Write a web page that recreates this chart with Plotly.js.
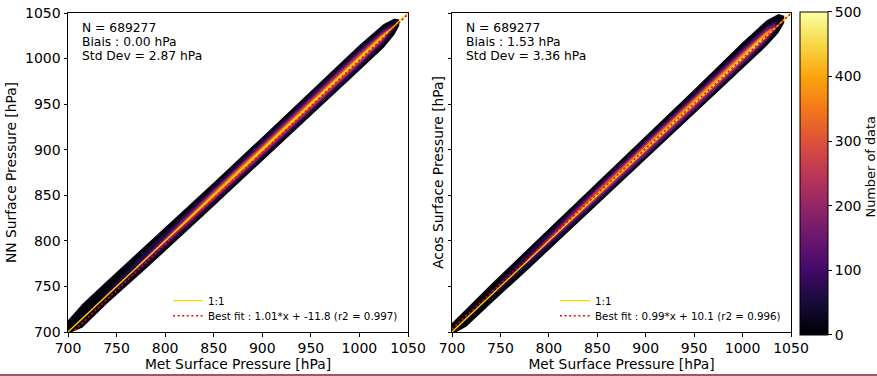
<!DOCTYPE html>
<html>
<head>
<meta charset="utf-8">
<script src="https://cdn.plot.ly/plotly-3.0.1.min.js"></script>
<style>html,body{margin:0;padding:0;background:#fff;}#chart{width:877px;height:376px;}</style>
</head>
<body>
<div id="chart"></div>
<script>
// ---------------- DATA ----------------
const axisTicks = [700, 750, 800, 850, 900, 950, 1000, 1050];
const cbTicks = [0, 100, 200, 300, 400, 500];
const statsNN = ["N = 689277", "Biais : 0.00 hPa", "Std Dev = 2.87 hPa"];
const statsAcos = ["N = 689277", "Biais : 1.53 hPa", "Std Dev = 3.36 hPa"];
const oneToOneX = [700, 1050];
const oneToOneY = [700, 1050];
const fitNNX = [700, 1050];
const fitNNY = [695.2, 1048.7];      // 1.01*x + -11.8
const fitAcosX = [700, 1050];
const fitAcosY = [703.1, 1049.6];    // 0.99*x + 10.1
const fitNNLabel = "Best fit : 1.01*x + -11.8 (r2 = 0.997)";
const fitAcosLabel = "Best fit : 0.99*x + 10.1 (r2 = 0.996)";
const colorbarTitle = "Number of data";

// density bands: count level of each shade (Number of data)
const bandLevels = [8, 60, 150, 250, 370, 470];

// NN panel: Met pressure knots, lower / upper NN pressure edge of each density level
const nnX0 = [700, 715, 740, 780, 850, 900, 950, 1000, 1025, 1036, 1041];
const nnUp0 = [713, 731, 756, 795, 864, 914, 964, 1015, 1038, 1044, 1043];
const nnLo0 = [698, 705, 731, 769, 838, 887, 937, 987, 1012, 1026, 1036];
const nnX1 = [735, 780, 850, 900, 950, 1000, 1025, 1035];
const nnUp1 = [738, 789, 860, 910, 960, 1011, 1034, 1039];
const nnLo1 = [734, 773, 841, 891, 941, 990, 1016, 1031];
const nnX2 = [770, 820, 900, 950, 1000, 1025, 1033];
const nnUp2 = [772, 826, 907.5, 957.5, 1008, 1031, 1036];
const nnLo2 = [768, 815, 893, 943, 993, 1019, 1031];
const nnX3 = [790, 850, 900, 950, 1000, 1025, 1031];
const nnUp3 = [791, 855, 905, 955, 1005.5, 1029, 1033];
const nnLo3 = [789, 845.5, 895.5, 945.5, 995, 1021.5, 1029.5];
const nnX4 = [810, 870, 950, 1000, 1022, 1030];
const nnUp4 = [811, 873, 953, 1003.5, 1025, 1031];
const nnLo4 = [809, 867.5, 947.5, 997, 1019.5, 1029];
const nnX5 = [870, 940, 1000, 1022];
const nnUp5 = [870.5, 941.3, 1001.5, 1022.7];
const nnLo5 = [869.5, 938.9, 998.6, 1021.3];

// Acos panel
const acX0 = [700, 715, 740, 780, 850, 900, 950, 1000, 1025, 1037, 1043];
const acUp0 = [710, 726, 752, 793, 864, 915, 966, 1018, 1042, 1049, 1047];
const acLo0 = [697, 706, 731, 770, 839, 889, 939, 989, 1014, 1028, 1039];
const acX1 = [740, 780, 850, 900, 950, 1000, 1025, 1036];
const acUp1 = [744, 789, 861, 911, 962, 1013, 1037, 1043];
const acLo1 = [738, 774, 842, 892, 942, 992, 1018, 1033];
const acX2 = [775, 820, 900, 950, 1000, 1025, 1034];
const acUp2 = [777, 827, 908.5, 959, 1010, 1034, 1039];
const acLo2 = [773, 816, 894, 944, 994, 1020, 1032];
const acX3 = [795, 850, 900, 950, 1000, 1025, 1032];
const acUp3 = [797, 856, 906.5, 957, 1007.5, 1031, 1035];
const acLo3 = [795, 847, 897, 947, 997, 1022.5, 1031];
const acX4 = [815, 870, 950, 1000, 1022, 1030];
const acUp4 = [817, 874, 955, 1005.5, 1027, 1033];
const acLo4 = [815, 869, 949, 999, 1021, 1030];
const acX5 = [880, 940, 1000, 1020];
const acUp5 = [881.7, 942.5, 1003.2, 1022.6];
const acLo5 = [880.3, 940.3, 1000.6, 1020.6];

// ---------------- STYLE ----------------
const infernoStops = [
  [0.0, '#000004'], [0.1, '#160b39'], [0.2, '#420a68'], [0.3, '#6a176e'],
  [0.4, '#932667'], [0.5, '#bc3754'], [0.6, '#dd513a'], [0.7, '#f37819'],
  [0.8, '#fca50a'], [0.9, '#f6d746'], [1.0, '#fcffa4']
];
function hexToRgb(h){return [parseInt(h.slice(1,3),16),parseInt(h.slice(3,5),16),parseInt(h.slice(5,7),16)];}
function inferno(t){
  t = Math.max(0, Math.min(1, t));
  for (let i = 1; i < infernoStops.length; i++) {
    if (t <= infernoStops[i][0]) {
      const a = infernoStops[i-1], b = infernoStops[i];
      const f = (t - a[0]) / (b[0] - a[0]);
      const ca = hexToRgb(a[1]), cb = hexToRgb(b[1]);
      return 'rgb(' + ca.map((v,k)=>Math.round(v + (cb[k]-v)*f)).join(',') + ')';
    }
  }
  return infernoStops[infernoStops.length-1][1];
}
const FONT = 'DejaVu Sans, sans-serif';
const TICK = 14, TITLE = 13.8, CBTITLE = 12.9, STAT = 12.3, LEG = 10.3;

function band(xs, lo, hi, level, xa, ya){
  return {
    type: 'scatter', mode: 'lines', xaxis: xa, yaxis: ya,
    x: xs.concat(xs.slice().reverse()),
    y: hi.concat(lo.slice().reverse()),
    fill: 'toself', fillcolor: inferno(level/500),
    line: {width: 0, color: inferno(level/500)},
    hoverinfo: 'skip', showlegend: false
  };
}

const nnBands = [[nnX0,nnLo0,nnUp0],[nnX1,nnLo1,nnUp1],[nnX2,nnLo2,nnUp2],[nnX3,nnLo3,nnUp3],[nnX4,nnLo4,nnUp4],[nnX5,nnLo5,nnUp5]];
const acBands = [[acX0,acLo0,acUp0],[acX1,acLo1,acUp1],[acX2,acLo2,acUp2],[acX3,acLo3,acUp3],[acX4,acLo4,acUp4],[acX5,acLo5,acUp5]];

const traces = [];
nnBands.forEach((b,i)=>traces.push(band(b[0],b[1],b[2],bandLevels[i],'x','y')));
acBands.forEach((b,i)=>traces.push(band(b[0],b[1],b[2],bandLevels[i],'x2','y2')));

const oneStyle = {color:'#ffd700', width:1.3};
const fitStyle = {color:'#ff0000', width:1.6, dash:'2px,2.6px'};
traces.push({type:'scatter', mode:'lines', x: oneToOneX, y: oneToOneY, xaxis:'x', yaxis:'y',
  name:'1:1', line: oneStyle, legend:'legend', hoverinfo:'skip'});
traces.push({type:'scatter', mode:'lines', x: fitNNX, y: fitNNY, xaxis:'x', yaxis:'y',
  name: fitNNLabel, line: fitStyle, legend:'legend2', hoverinfo:'skip'});
traces.push({type:'scatter', mode:'lines', x: oneToOneX, y: oneToOneY, xaxis:'x2', yaxis:'y2',
  name:'1:1', line: oneStyle, legend:'legend3', hoverinfo:'skip'});
traces.push({type:'scatter', mode:'lines', x: fitAcosX, y: fitAcosY, xaxis:'x2', yaxis:'y2',
  name: fitAcosLabel, line: fitStyle, legend:'legend4', hoverinfo:'skip'});

// colorbar carrier (point lies outside the axis range)
const cbScale = infernoStops.map(s=>[s[0], s[1]]);
traces.push({type:'scatter', mode:'markers', x:[0], y:[0], xaxis:'x2', yaxis:'y2', showlegend:false, hoverinfo:'skip',
  marker:{size:1, color:[0], cmin:0, cmax:500, colorscale: cbScale, showscale:true,
    colorbar:{x:1.0124, xanchor:'left', xref:'paper', y:0.4969, yanchor:'middle', yref:'paper',
      len:323, lenmode:'pixels', thickness:28, thicknessmode:'pixels', xpad:0, ypad:0,
      outlinewidth:1, outlinecolor:'#000', ticks:'outside', ticklen:4, tickwidth:1, tickcolor:'#000',
      tickvals: cbTicks, ticktext: cbTicks.map(String), tickfont:{family:FONT, size:TICK, color:'#000'}}}});

const W = 877, H = 376, ML = 68, MR = 86, MT = 13, MB = 44;
const PW = W - ML - MR, PH = H - MT - MB;

function xax(domain, anchor){
  return {domain: domain, anchor: anchor, range:[700,1050], tickvals: axisTicks, ticktext: axisTicks.map(String),
    ticks:'outside', ticklen:3.5, tickwidth:1, tickcolor:'#000', showline:true, mirror:true, linecolor:'#000', linewidth:1,
    showgrid:false, zeroline:false, automargin:false, tickfont:{family:FONT, size:TICK, color:'#000'},
    title:{text:'Met Surface Pressure [hPa]', font:{family:FONT, size:TITLE, color:'#000'}, standoff:3}};
}
function yax(anchor, title, showLabels){
  return {domain:[0,1], anchor: anchor, range:[700,1050], tickvals: axisTicks, ticktext: axisTicks.map(String),
    ticks:'outside', ticklen:3.5, tickwidth:1, tickcolor:'#000', showline:true, mirror:true, linecolor:'#000', linewidth:1,
    showgrid:false, zeroline:false, automargin:false, showticklabels: showLabels, tickfont:{family:FONT, size:TICK, color:'#000'},
    title:{text:title, font:{family:FONT, size:TITLE, color:'#000'}, standoff: showLabels ? 5 : 0}};
}

const x1dom = [0, 340/PW];
const x2dom = [(452-ML)/PW, (791-ML)/PW];

function leg(px, py){
  return {x:(px-ML)/PW, y:(332-py)/PH, xanchor:'left', yanchor:'middle', bgcolor:'rgba(0,0,0,0)', borderwidth:0,
    font:{family:FONT, size:LEG, color:'#000'}, tracegroupgap:0, itemwidth:30};
}
function statAnn(axis, line, i){
  return {xref: axis+' domain', yref:'y domain', x: 12/340, y: 1 - (28.5 + 13.9*i - MT)/PH, xanchor:'left', yanchor:'middle',
    align:'left', showarrow:false, text: line, font:{family:FONT, size:STAT, color:'#000'}};
}

const annotations = [];
statsNN.forEach((t,i)=>annotations.push(statAnn('x', t, i)));
statsAcos.forEach((t,i)=>annotations.push(statAnn('x2', t, i)));
annotations.push({xref:'paper', yref:'paper', x:(870-ML)/PW, y:(332-167.5)/PH, xanchor:'center', yanchor:'middle',
  textangle:-90, showarrow:false, text: colorbarTitle, font:{family:FONT, size:CBTITLE, color:'#000'}});

const layout = {
  width: W, height: H, margin:{l:ML, r:MR, t:MT, b:MB, pad:0, autoexpand:false},
  paper_bgcolor:'#fff', plot_bgcolor:'#fff',
  font:{family:FONT, color:'#000'},
  xaxis: xax(x1dom, 'y'),
  yaxis: yax('x', 'NN Surface Pressure [hPa]', true),
  xaxis2: xax(x2dom, 'y2'),
  yaxis2: yax('x2', 'Acos Surface Pressure [hPa]', false),
  legend: leg(168, 300.7),
  legend2: leg(168, 315.7),
  legend3: leg(555, 300.7),
  legend4: leg(555, 315.7),
  annotations: annotations,
  shapes:[
    {type:'line', xref:'paper', yref:'paper', x0:-ML/PW, x1:(W-ML)/PW, y0:-(375-332)/PH, y1:-(375-332)/PH,
      line:{color:'#7f1f2f', width:1.5}}
  ],
  showlegend:true
};

Plotly.newPlot('chart', traces, layout, {staticPlot:true, displayModeBar:false});
</script>
</body>
</html>
